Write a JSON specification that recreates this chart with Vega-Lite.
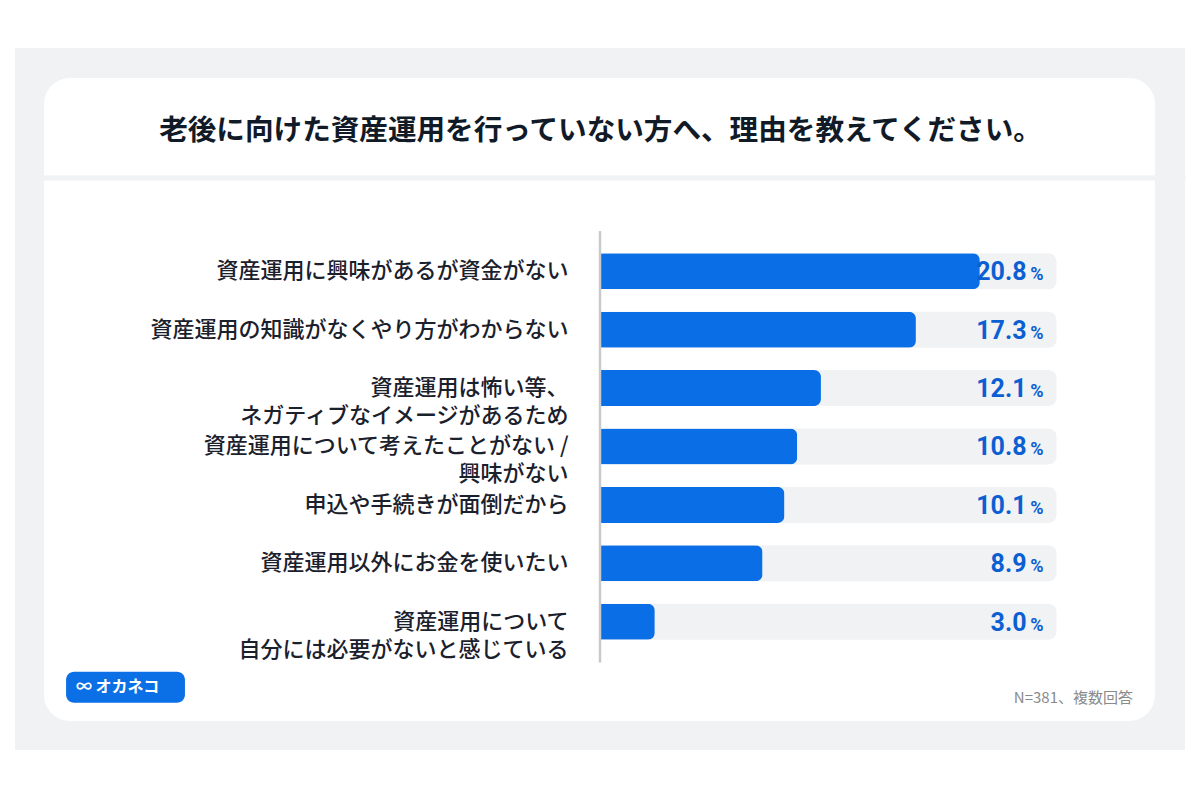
{
  "$schema": "https://vega.github.io/schema/vega-lite/v6.json",
  "width": 1170,
  "height": 702,
  "autosize": {"type": "none"},
  "padding": {"left": 15, "top": 48, "right": 15, "bottom": 50},
  "background": "#ffffff",
  "config": {
    "view": {"fill": "#f1f2f4", "stroke": null},
    "font": "Noto Sans CJK JP"
  },
  "datasets": {
    "reasons": [
      {"cat": "資産運用に興味があるが資金がない", "value": 20.8, "label": "20.8"},
      {"cat": "資産運用の知識がなくやり方がわからない", "value": 17.3, "label": "17.3"},
      {"cat": "資産運用は怖い等、|ネガティブなイメージがあるため", "value": 12.1, "label": "12.1"},
      {"cat": "資産運用について考えたことがない /|興味がない", "value": 10.8, "label": "10.8"},
      {"cat": "申込や手続きが面倒だから", "value": 10.1, "label": "10.1"},
      {"cat": "資産運用以外にお金を使いたい", "value": 8.9, "label": "8.9"},
      {"cat": "資産運用について|自分には必要がないと感じている", "value": 3.0, "label": "3.0"}
    ],
    "misc": [{"logo": "∞ オカネコ", "note": "N=381、複数回答"}]
  },
  "layer": [
    {
      "data": {"name": "misc"},
      "mark": {"type": "rect", "color": "#ffffff", "cornerRadius": 26},
      "encoding": {
        "x": {
          "datum": -30.45, "type": "quantitative",
          "scale": {"domain": [-32.037, 32.037], "nice": false, "zero": false},
          "axis": {
            "orient": "top", "offset": -129.5, "zindex": 1, "domain": true, "domainColor": "#f1f2f4", "domainWidth": 5,
            "ticks": false, "labels": false, "grid": false,
            "title": "老後に向けた資産運用を行っていない方へ、理由を教えてください。",
            "titleFontSize": 28.6, "titleFontWeight": "bold", "titleColor": "#111a27",
            "titleFont": "Noto Sans CJK JP", "titlePadding": 47, "titleBaseline": "middle"
          }
        },
        "x2": {"datum": 30.39},
        "y": {
          "datum": "t1", "type": "nominal", "bandPosition": 0,
          "scale": {
            "domain": ["t1", "t2", "t3",
              "資産運用に興味があるが資金がない",
              "資産運用の知識がなくやり方がわからない",
              "資産運用は怖い等、|ネガティブなイメージがあるため",
              "資産運用について考えたことがない /|興味がない",
              "申込や手続きが面倒だから",
              "資産運用以外にお金を使いたい",
              "資産運用について|自分には必要がないと感じている",
              "logo"],
            "paddingInner": 0.3836, "paddingOuter": 0.702, "align": 0.367
          },
          "axis": {
            "orient": "left", "offset": -585, "zindex": 1, "domain": false, "ticks": false, "grid": false,
            "title": null, "labelPadding": 32, "labelFontSize": 22, "labelFontWeight": 500, "labelColor": "#1a202c",
            "labelFont": "Noto Sans CJK JP", "labelLineHeight": 28, "labelLimit": 600,
            "labelBaseline": "middle",
            "labelExpr": "indexof(['t1','t2','t3','logo'], datum.label) >= 0 ? '' : split(datum.label, '|')"
          }
        },
        "y2": {"datum": "logo", "bandPosition": 1.636}
      }
    },
    {
      "data": {"name": "reasons"},
      "mark": {"type": "bar", "color": "#f1f2f4", "cornerRadius": 8},
      "encoding": {
        "x": {"datum": 0, "type": "quantitative", "scale": {"domain": [-32.037, 32.037], "nice": false, "zero": false}},
        "x2": {"datum": 25},
        "y": {"field": "cat", "type": "nominal",
          "scale": {
            "domain": ["t1", "t2", "t3",
              "資産運用に興味があるが資金がない",
              "資産運用の知識がなくやり方がわからない",
              "資産運用は怖い等、|ネガティブなイメージがあるため",
              "資産運用について考えたことがない /|興味がない",
              "申込や手続きが面倒だから",
              "資産運用以外にお金を使いたい",
              "資産運用について|自分には必要がないと感じている",
              "logo"],
            "paddingInner": 0.3836, "paddingOuter": 0.702, "align": 0.367
          }
        }
      }
    },
    {
      "data": {"name": "reasons"},
      "mark": {"type": "bar", "color": "#0a6fe6", "cornerRadiusEnd": 7},
      "encoding": {
        "x": {"field": "value", "type": "quantitative", "scale": {"domain": [-32.037, 32.037], "nice": false, "zero": false}},
        "y": {"field": "cat", "type": "nominal",
          "scale": {
            "domain": ["t1", "t2", "t3",
              "資産運用に興味があるが資金がない",
              "資産運用の知識がなくやり方がわからない",
              "資産運用は怖い等、|ネガティブなイメージがあるため",
              "資産運用について考えたことがない /|興味がない",
              "申込や手続きが面倒だから",
              "資産運用以外にお金を使いたい",
              "資産運用について|自分には必要がないと感じている",
              "logo"],
            "paddingInner": 0.3836, "paddingOuter": 0.702, "align": 0.367
          }
        }
      }
    },
    {
      "data": {"name": "misc"},
      "mark": {"type": "rule", "color": "#c9cacc", "strokeWidth": 2.5},
      "encoding": {
        "x": {"datum": 0, "type": "quantitative"},
        "y": {"datum": "資産運用に興味があるが資金がない", "type": "nominal", "bandPosition": -0.62},
        "y2": {"datum": "資産運用について|自分には必要がないと感じている", "bandPosition": 1.63}
      }
    },
    {
      "data": {"name": "reasons"},
      "mark": {"type": "text", "align": "right", "baseline": "alphabetic", "dx": -30, "dy": 9, "fontSize": 25, "fontWeight": "bold", "font": "Roboto", "color": "#0b5fd3"},
      "encoding": {
        "x": {"datum": 25, "type": "quantitative"},
        "y": {"field": "cat", "type": "nominal"},
        "text": {"field": "label"}
      }
    },
    {
      "data": {"name": "reasons"},
      "mark": {"type": "text", "align": "right", "baseline": "alphabetic", "dx": -13, "dy": 9, "fontSize": 18, "fontWeight": "bold", "font": "Roboto", "color": "#0b5fd3"},
      "encoding": {
        "x": {"datum": 25, "type": "quantitative"},
        "y": {"field": "cat", "type": "nominal"},
        "text": {"value": "%"}
      }
    },
    {
      "data": {"name": "misc"},
      "mark": {"type": "rect", "color": "#0b6fe6", "cornerRadius": 8},
      "encoding": {
        "x": {"datum": -29.24, "type": "quantitative"},
        "x2": {"datum": -22.73},
        "y": {"datum": "logo", "type": "nominal", "bandPosition": 0.267},
        "y2": {"datum": "logo", "bandPosition": 1.128}
      }
    },
    {
      "data": {"name": "misc"},
      "mark": {"type": "text", "align": "left", "baseline": "middle", "fontSize": 16, "fontWeight": "bold", "color": "#ffffff", "font": "Noto Sans CJK JP"},
      "encoding": {
        "x": {"datum": -28.7, "type": "quantitative"},
        "y": {"datum": "logo", "type": "nominal", "bandPosition": 0.7},
        "text": {"field": "logo"}
      }
    },
    {
      "data": {"name": "misc"},
      "mark": {"type": "text", "align": "right", "baseline": "middle", "fontSize": 15, "color": "#8a8a8a", "font": "Noto Sans CJK JP"},
      "encoding": {
        "x": {"datum": 29.19, "type": "quantitative"},
        "y": {"datum": "logo", "type": "nominal", "bandPosition": 1.0},
        "text": {"field": "note"}
      }
    }
  ]
}
